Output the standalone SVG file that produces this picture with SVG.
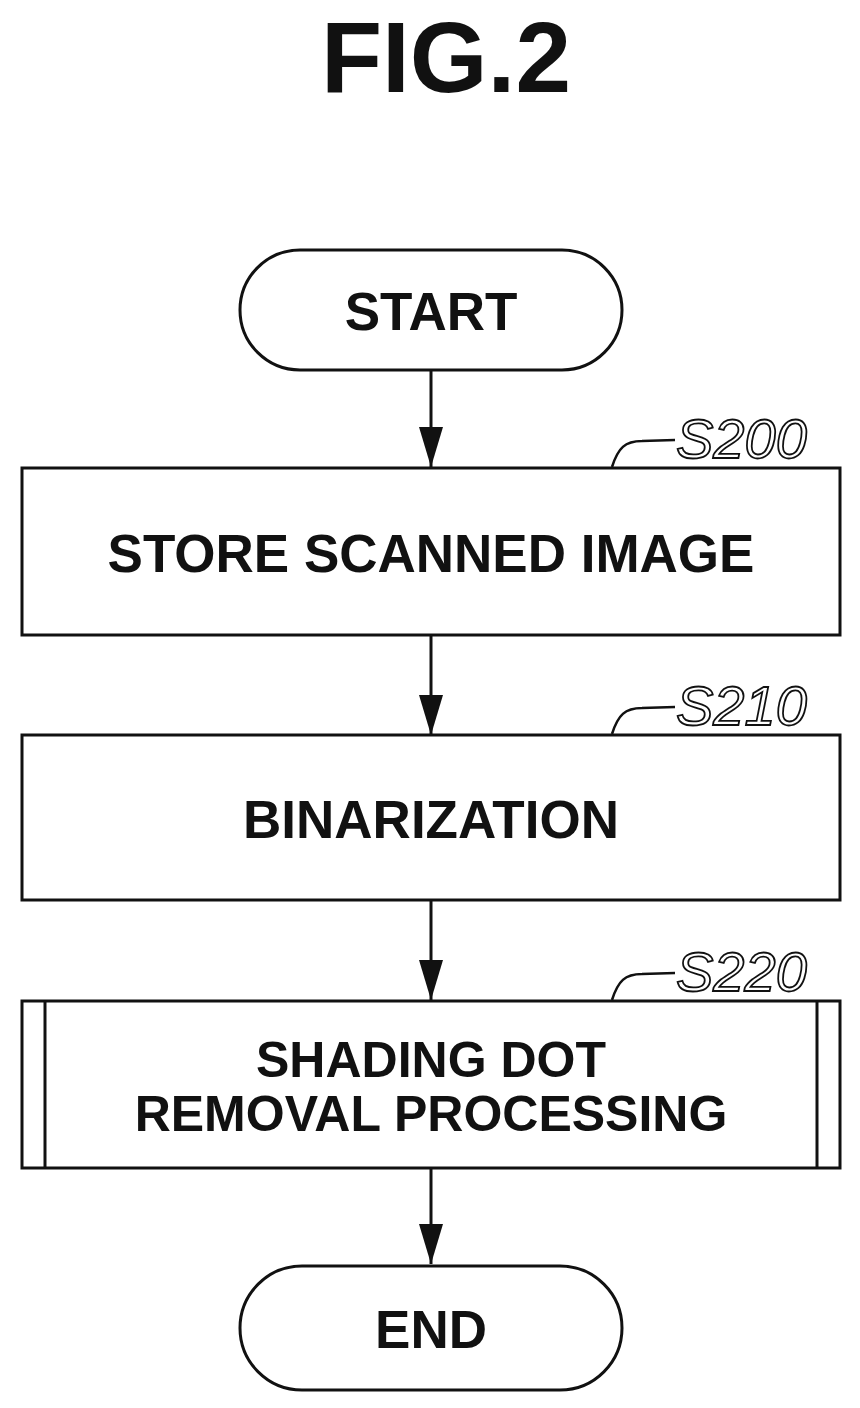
<svg xmlns="http://www.w3.org/2000/svg" width="860" height="1408" viewBox="0 0 860 1408">
<style>
.s{fill:none;stroke:#111;stroke-width:3}
.t{font-family:"Liberation Sans",Arial,sans-serif;font-weight:bold;font-size:53px;fill:#111;text-anchor:middle}
.t2{font-size:50px}
.l{font-family:"Liberation Sans",Arial,sans-serif;font-style:italic;font-size:56px;fill:none;stroke:#111;stroke-width:1.8}
.ld{fill:none;stroke:#111;stroke-width:2.5}
</style>
<defs>
<marker id="ah" viewBox="0 0 40 24" refX="40" refY="12" markerWidth="40" markerHeight="24" markerUnits="userSpaceOnUse" orient="auto"><path d="M0,0 L40,12 L0,24 z" fill="#111"/></marker>
</defs>
<text x="446" y="92" style="font-family:'Liberation Sans',Arial,sans-serif;font-weight:bold;font-size:100px;fill:#111;text-anchor:middle">FIG.2</text>
<g id="connectors">
<line class="s" x1="431" y1="370" x2="431" y2="467" marker-end="url(#ah)"/>
<line class="s" x1="431" y1="635" x2="431" y2="735" marker-end="url(#ah)"/>
<line class="s" x1="431" y1="900" x2="431" y2="1000" marker-end="url(#ah)"/>
<line class="s" x1="431" y1="1168" x2="431" y2="1264" marker-end="url(#ah)"/>
</g>
<g id="start"><rect class="s" x="240" y="250" width="382" height="120" rx="60"/><text class="t" x="431" y="330">START</text></g>
<g id="s200"><rect class="s" x="22" y="468" width="818" height="167"/><text class="t" x="431" y="572">STORE SCANNED IMAGE</text>
<path class="ld" d="M612,467 C618,448 625,441 642,441 L675,440"/><text class="l" x="676" y="458">S200</text></g>
<g id="s210"><rect class="s" x="22" y="735" width="818" height="165"/><text class="t" x="431" y="838">BINARIZATION</text>
<path class="ld" d="M612,734 C618,715 625,708 642,708 L675,707"/><text class="l" x="676" y="725">S210</text></g>
<g id="s220"><rect class="s" x="22" y="1001" width="818" height="167"/><line class="s" x1="45" y1="1001" x2="45" y2="1168"/><line class="s" x1="817" y1="1001" x2="817" y2="1168"/>
<text class="t t2" x="431" y="1077">SHADING DOT</text><text class="t t2" x="431" y="1131">REMOVAL PROCESSING</text>
<path class="ld" d="M612,1000 C618,981 625,974 642,974 L675,973"/><text class="l" x="676" y="991">S220</text></g>
<g id="end"><rect class="s" x="240" y="1266" width="382" height="124" rx="62"/><text class="t" x="431" y="1348">END</text></g>
</svg>
